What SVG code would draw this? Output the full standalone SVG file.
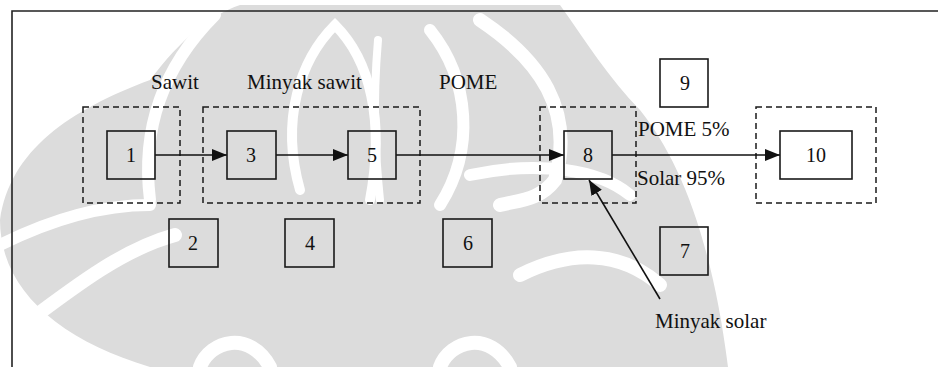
<svg xmlns="http://www.w3.org/2000/svg" width="938" height="367" viewBox="0 0 938 367">
<style>
.box{fill:none;stroke:#1a1a1a;stroke-width:1.6}
.dash{fill:none;stroke:#1a1a1a;stroke-width:1.5;stroke-dasharray:6,4}
.lbl{font-family:"Liberation Serif","Times New Roman",serif;font-size:21px;fill:#111}
.num{font-family:"Liberation Serif","Times New Roman",serif;font-size:20px;fill:#111;text-anchor:middle}
.conn{stroke:#111;stroke-width:1.6;fill:none;marker-end:url(#ah)}
.wm{fill:#dcdcdc}
.wmw{fill:none;stroke:#fff;stroke-linecap:round}
</style>
<defs>
<marker id="ah" markerUnits="userSpaceOnUse" markerWidth="16" markerHeight="12" refX="15" refY="6" orient="auto">
<path d="M0,0 L15,6 L0,12 z" fill="#111"/>
</marker>
</defs>
<rect width="938" height="367" fill="#fff"/>
<g id="watermark">
<path class="wm" d="M150 367 C60 340 0 290 0 220 C10 150 70 110 150 80 C180 40 210 15 240 5 L560 5 C585 40 610 80 640 110 C680 160 712 240 728 367 Z"/>
<path class="wmw" stroke-width="12" d="M215 15 C170 60 140 120 150 200"/>
<path class="wmw" stroke-width="14" d="M10 335 C70 290 120 250 175 235"/>
<path class="wmw" stroke-width="12" d="M0 245 C60 215 110 205 150 205"/>
<path class="wmw" stroke-width="10" d="M300 190 C280 120 300 60 335 25 C370 60 385 120 370 200"/>
<path class="wmw" stroke-width="8" d="M378 40 C372 110 376 160 380 200"/>
<path class="wmw" stroke-width="12" d="M430 30 C470 80 475 150 440 205"/>
<path class="wmw" stroke-width="14" d="M480 20 C540 60 575 110 555 180 C540 200 520 200 500 205"/>
<path class="wmw" stroke-width="14" d="M520 275 C570 250 620 250 660 285"/>
<path class="wmw" stroke-width="12" d="M470 175 C540 160 600 170 630 195"/>
<path class="wmw" stroke-width="14" d="M200 367 C210 340 250 330 270 367"/>
<path class="wmw" stroke-width="14" d="M440 367 C450 340 490 330 510 367"/>
</g>
<g id="frame"><path d="M12 367 V11 H938" fill="none" stroke="#222" stroke-width="1.6"/></g>
<g id="groups">
<rect class="dash" x="83" y="107" width="97" height="96"/>
<rect class="dash" x="203" y="107" width="217" height="96"/>
<rect class="dash" x="540" y="107" width="96" height="96"/>
<rect class="dash" x="756" y="107" width="120" height="96"/>
</g>
<g id="connectors">
<line class="conn" x1="155" y1="155" x2="227" y2="155"/>
<line class="conn" x1="276" y1="155" x2="348" y2="155"/>
<line class="conn" x1="396" y1="155" x2="564" y2="155"/>
<line class="conn" x1="612" y1="155" x2="780" y2="155"/>
<line class="conn" x1="660" y1="299" x2="589" y2="180"/>
</g>
<g id="n1"><rect class="box" x="107" y="131" width="48" height="48"/><text class="num" x="131" y="162">1</text></g>
<g id="n2"><rect class="box" x="169" y="219" width="49" height="48"/><text class="num" x="193" y="250">2</text></g>
<g id="n3"><rect class="box" x="227" y="131" width="49" height="48"/><text class="num" x="251" y="162">3</text></g>
<g id="n4"><rect class="box" x="285" y="219" width="49" height="48"/><text class="num" x="310" y="250">4</text></g>
<g id="n5"><rect class="box" x="348" y="131" width="48" height="48"/><text class="num" x="372" y="162">5</text></g>
<g id="n6"><rect class="box" x="443" y="219" width="49" height="48"/><text class="num" x="468" y="250">6</text></g>
<g id="n7"><rect class="box" x="660" y="227" width="48" height="48"/><text class="num" x="685" y="258">7</text></g>
<g id="n8"><rect class="box" x="564" y="131" width="48" height="48"/><text class="num" x="588" y="162">8</text></g>
<g id="n9"><rect class="box" x="660" y="59" width="48" height="48"/><text class="num" x="685" y="90">9</text></g>
<g id="n10"><rect class="box" x="780" y="131" width="72" height="48"/><text class="num" x="816" y="162">10</text></g>
<g id="labels">
<text class="lbl" x="151" y="89">Sawit</text>
<text class="lbl" x="247" y="89">Minyak sawit</text>
<text class="lbl" x="439" y="89">POME</text>
<text class="lbl" x="638" y="136">POME 5%</text>
<text class="lbl" x="637" y="185">Solar 95%</text>
<text class="lbl" x="655" y="328">Minyak solar</text>
</g>
</svg>
